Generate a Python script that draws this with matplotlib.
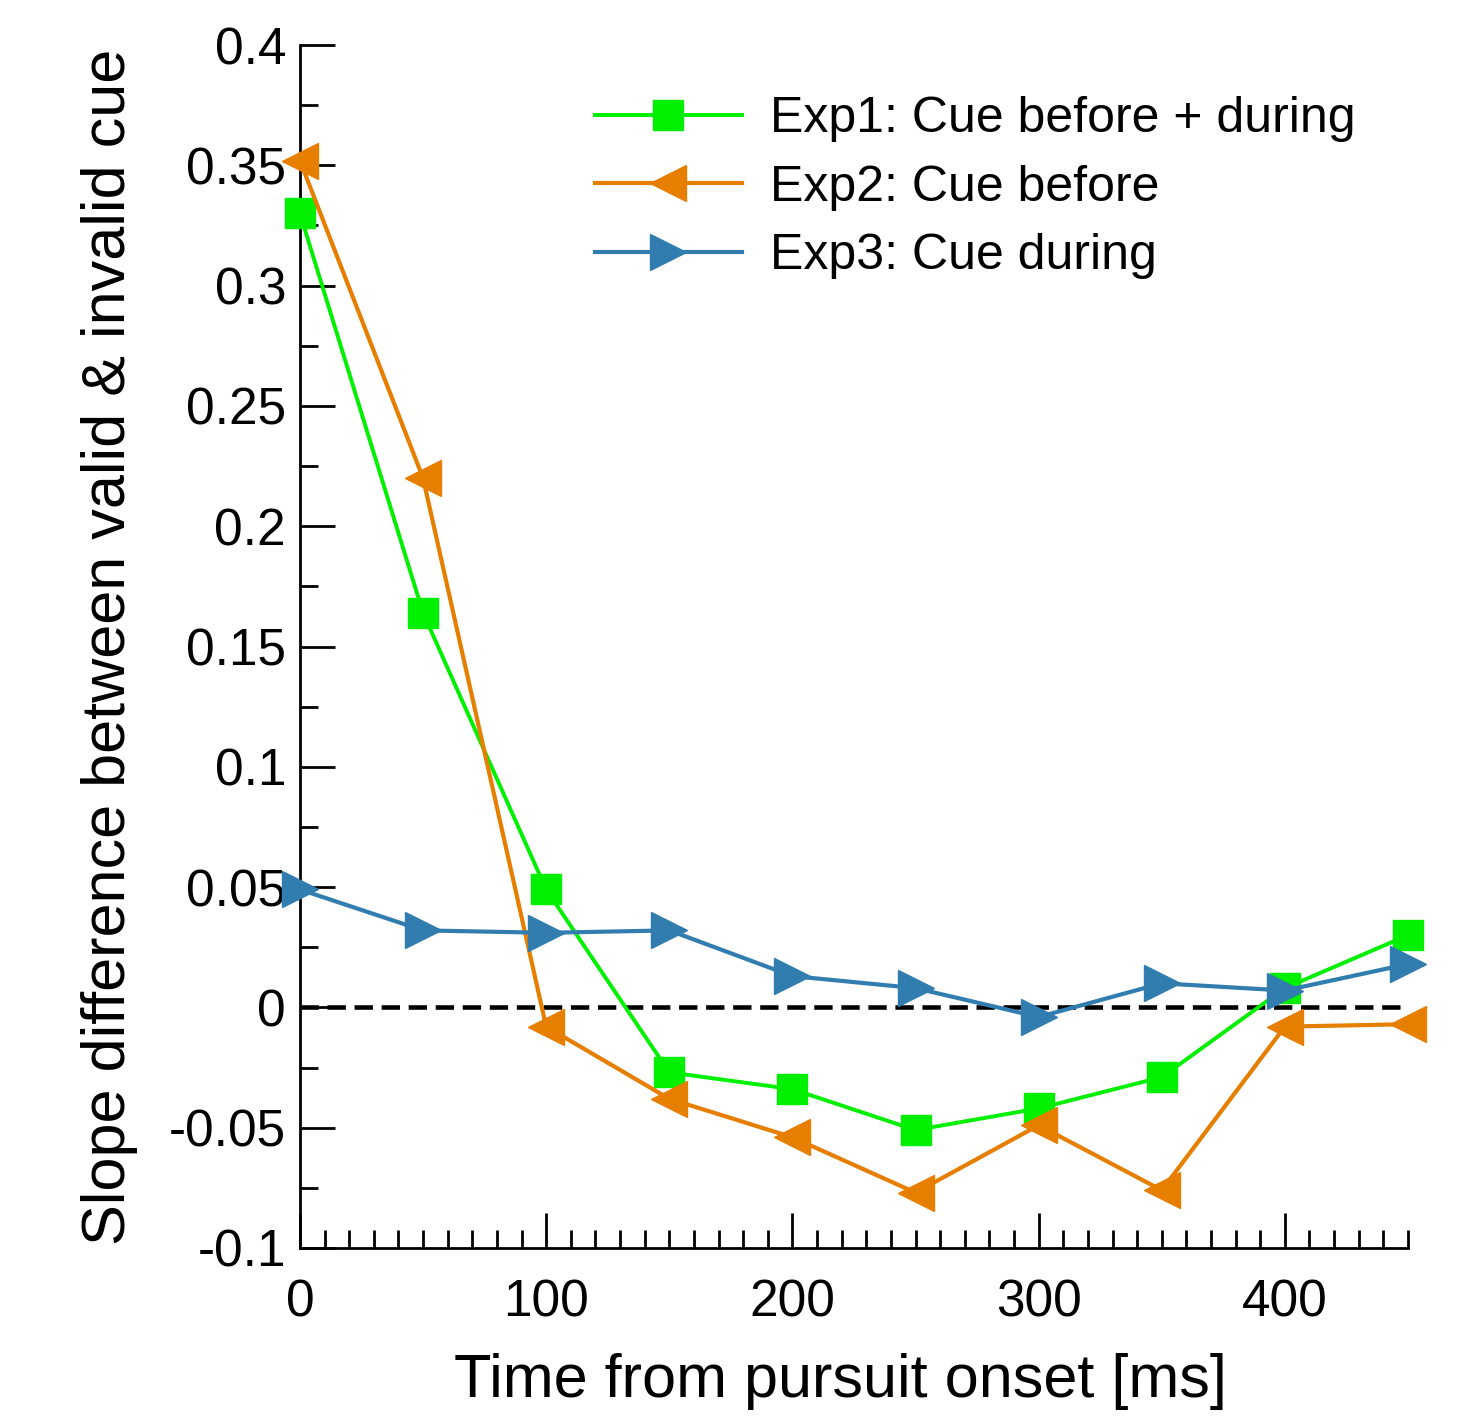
import matplotlib
matplotlib.use("Agg")
import matplotlib.pyplot as plt
from matplotlib.ticker import MultipleLocator
import numpy as np

plt.rcParams['font.family'] = ['Liberation Sans', 'DejaVu Sans']

# data
time_ms = [0, 50, 100, 150, 200, 250, 300, 350, 400, 450]
exp1 = [0.330, 0.164, 0.049, -0.027, -0.034, -0.051, -0.042, -0.029, 0.008, 0.030]
exp2 = [0.352, 0.220, -0.008, -0.038, -0.054, -0.077, -0.049, -0.076, -0.008, -0.007]
exp3 = [0.049, 0.032, 0.031, 0.032, 0.013, 0.008, -0.004, 0.010, 0.007, 0.018]
labels = ['Exp1: Cue before + during', 'Exp2: Cue before', 'Exp3: Cue during']

fig = plt.figure(figsize=(14.63, 14.17), dpi=100)
ax = fig.add_axes([0.205, 0.1193, 0.7574, 0.8489])

ax.plot([0, 450], [0, 0], ls='--', color='black', lw=3.3, dashes=(4, 1.9), zorder=1)
ax.plot(time_ms, exp1, color='#00f000', lw=2.8, marker='s', ms=21, label=labels[0], clip_on=False, zorder=3)
ax.plot(time_ms, exp2, color='#e67e00', lw=3, marker='<', ms=26, label=labels[1], clip_on=False, zorder=3)
ax.plot(time_ms, exp3, color='#327db0', lw=3, marker='>', ms=26, label=labels[2], clip_on=False, zorder=3)

ax.set_xlim(0, 450)
ax.set_ylim(-0.1, 0.4)
ax.xaxis.set_major_locator(MultipleLocator(100))
ax.xaxis.set_minor_locator(MultipleLocator(10))
ax.yaxis.set_major_locator(MultipleLocator(0.05))
ax.yaxis.set_minor_locator(MultipleLocator(0.025))
ax.set_yticks(np.arange(-0.1, 0.401, 0.05))
ax.set_yticklabels(['-0.1', '-0.05', '0', '0.05', '0.1', '0.15', '0.2', '0.25', '0.3', '0.35', '0.4'])

for s in ['top', 'right']:
    ax.spines[s].set_visible(False)
for s in ['left', 'bottom']:
    ax.spines[s].set_linewidth(2)
ax.tick_params(which='both', direction='in', width=2, labelsize=37)
ax.tick_params(which='major', length=25)
ax.tick_params(which='minor', length=13)
ax.tick_params(axis='y', which='major', pad=10)
ax.tick_params(axis='x', which='major', pad=22)

ax.set_xlabel('Time from pursuit onset [ms]', fontsize=44, labelpad=22)
ax.xaxis.set_label_coords(0.488, -0.087)
ax.set_ylabel('Slope difference between valid & invalid cue', fontsize=44, labelpad=22)

ax.legend(loc='upper right', bbox_to_anchor=(0.993, 0.995), frameon=False, fontsize=36,
          handlelength=2.95, handletextpad=0.55, labelspacing=0.45)

fig.savefig('out.png', dpi=100)
